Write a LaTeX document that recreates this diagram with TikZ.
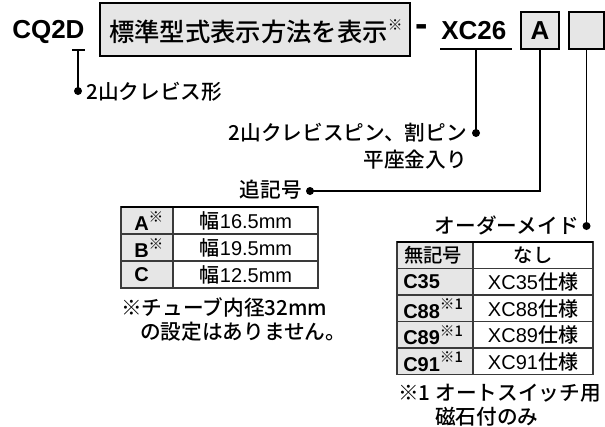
\documentclass[tikz,border=0pt]{standalone}
\usepackage{fontspec}
\setmainfont{Liberation Sans}
\newfontfamily\jp{Noto Sans CJK JP}[UprightFont={* Medium},BoldFont={* Bold}]
\definecolor{boxgray}{HTML}{E6E6E6}
\definecolor{gridgray}{HTML}{3A3A3A}
\newcommand{\kome}[1]{\raisebox{0.42em}{\normalfont\jp\fontsize{11pt}{11pt}\selectfont ※#1}}
\begin{document}
\begin{tikzpicture}[x=0.75pt,y=-0.75pt,
  jpl/.style={inner sep=0,font=\jp\fontsize{15.5pt}{18pt}\selectfont},
  jpn/.style={inner sep=0,font=\jp\fontsize{14.5pt}{17pt}\selectfont},
  cellb/.style={inner sep=0,font=\bfseries\fontsize{15pt}{18pt}\selectfont},
  celln/.style={inner sep=0,font=\fontsize{15pt}{18pt}\selectfont},
  code/.style={inner sep=0,font=\bfseries\fontsize{19.5pt}{22pt}\selectfont},
  gbox/.style={draw=black,fill=boxgray,line width=1.2pt,inner sep=0},
  conn/.style={line width=1.4pt},
  grid/.style={draw=gridgray,line width=0.8pt},
  topline/.style={draw=black,line width=1.6pt},
  dotc/.style={fill=black}]
\useasboundingbox (0,0) rectangle (605,426);

% top row
\node[code,anchor=west] (cq) at (12,32) {CQ2D};
\node[gbox,minimum width=232.5pt,minimum height=39.75pt] (std) at (255,29.5) {};
\node[anchor=west,inner sep=0,font=\jp\fontsize{19pt}{21pt}\selectfont] (stdt) at (109,32) {標準型式表示方法を表示\kome{}};
\node[inner sep=0,anchor=west,font=\bfseries\fontsize{28pt}{30pt}\selectfont] (dash) at (415,31) {-};
\node[code,anchor=west] (xc) at (441,31) {XC26};
\node[gbox,minimum width=28.5pt,minimum height=27.75pt,font=\bfseries\fontsize{19.5pt}{22pt}\selectfont] (abox) at (540,30.5) {A};
\node[gbox,minimum width=26.25pt,minimum height=27.75pt] (ebox) at (586.5,30.5) {};

% CQ2D connector
\coordinate (cqL) at (72,50);
\coordinate (cqR) at (85,50);
\coordinate (cqM) at (78,50);
\coordinate (dC) at (78,91);
\draw[conn] (cqL) -- (cqR);
\draw[conn] (cqM) -- (dC);
\fill[dotc] (dC) circle[radius=3pt];
\node[jpl,anchor=west] (lc) at (86,92) {2山クレビス形};

% XC26 connector
\coordinate (ulL) at (440,49);
\coordinate (ulR) at (512,49);
\coordinate (ulM) at (476,49);
\coordinate (dX) at (476,133);
\draw[conn] (ulL) -- (ulR);
\draw[conn] (ulM) -- (dX);
\fill[dotc] (dX) circle[radius=3pt];
\node[jpl,anchor=east] (lx1) at (467,133) {2山クレビスピン、割ピン};
\node[jpl,anchor=east] (lx2) at (467,160) {平座金入り};

% A connector
\coordinate (dA) at (310,191);
\draw[conn] (abox.south) |- (dA);
\fill[dotc] (dA) circle[radius=3pt];
\node[jpl,anchor=east] (la) at (302,190) {追記号};

% empty box connector
\coordinate (dE) at (586.5,226);
\draw[conn] (ebox.south) -- (dE);
\fill[dotc] (dE) circle[radius=3pt];
\node[jpl,anchor=east] (le) at (579,225) {オーダーメイド};

% table 1
\fill[boxgray] (121,207) rectangle (173,288);
\draw[grid] (121,207) rectangle (318,288);
\draw[grid] (173,207) -- (173,288);
\draw[grid] (121,234) -- (318,234);
\draw[grid] (121,261) -- (318,261);
\draw[topline] (121,207) -- (318,207);
\node[cellb,anchor=west] (t1a) at (134,221) {A\kome{}};
\node[cellb,anchor=west] (t1b) at (134,248) {B\kome{}};
\node[cellb,anchor=west] (t1c) at (134,275) {C};
\node[celln] (t1av) at (246,221) {{\jp 幅}16.5mm};
\node[celln] (t1bv) at (246,248) {{\jp 幅}19.5mm};
\node[celln] (t1cv) at (246,275) {{\jp 幅}12.5mm};
\node[jpl,anchor=west] (fn1a) at (121,307) {※チューブ内径32mm};
\node[jpl,anchor=west] (fn1b) at (140,332) {の設定はありません。};

% table 2
\fill[boxgray] (397,242) rectangle (473,374.5);
\draw[grid] (397,242) rectangle (593,374.5);
\draw[grid] (473,242) -- (473,374.5);
\draw[grid] (397,268.5) -- (593,268.5);
\draw[grid] (397,295) -- (593,295);
\draw[grid] (397,321.5) -- (593,321.5);
\draw[grid] (397,348) -- (593,348);
\draw[topline] (397,242) -- (593,242);
\node[jpn,anchor=west] (t2h) at (404,255.5) {無記号};
\node[cellb,anchor=west] (t2a) at (403,282) {C35};
\node[cellb,anchor=west] (t2b) at (403,308.5) {C88\kome{1}};
\node[cellb,anchor=west] (t2c) at (403,335) {C89\kome{1}};
\node[cellb,anchor=west] (t2d) at (403,361.5) {C91\kome{1}};
\node[jpn] (t2hv) at (533,255.5) {なし};
\node[celln] (t2av) at (533,282) {XC35{\jp 仕様}};
\node[celln] (t2bv) at (533,308.5) {XC88{\jp 仕様}};
\node[celln] (t2cv) at (533,335) {XC89{\jp 仕様}};
\node[celln] (t2dv) at (533,361.5) {XC91{\jp 仕様}};
\node[jpl,anchor=west] (fn2a) at (398,393) {※1 オートスイッチ用};
\node[jpl,anchor=west] (fn2b) at (435,417) {磁石付のみ};
\end{tikzpicture}
\end{document}
